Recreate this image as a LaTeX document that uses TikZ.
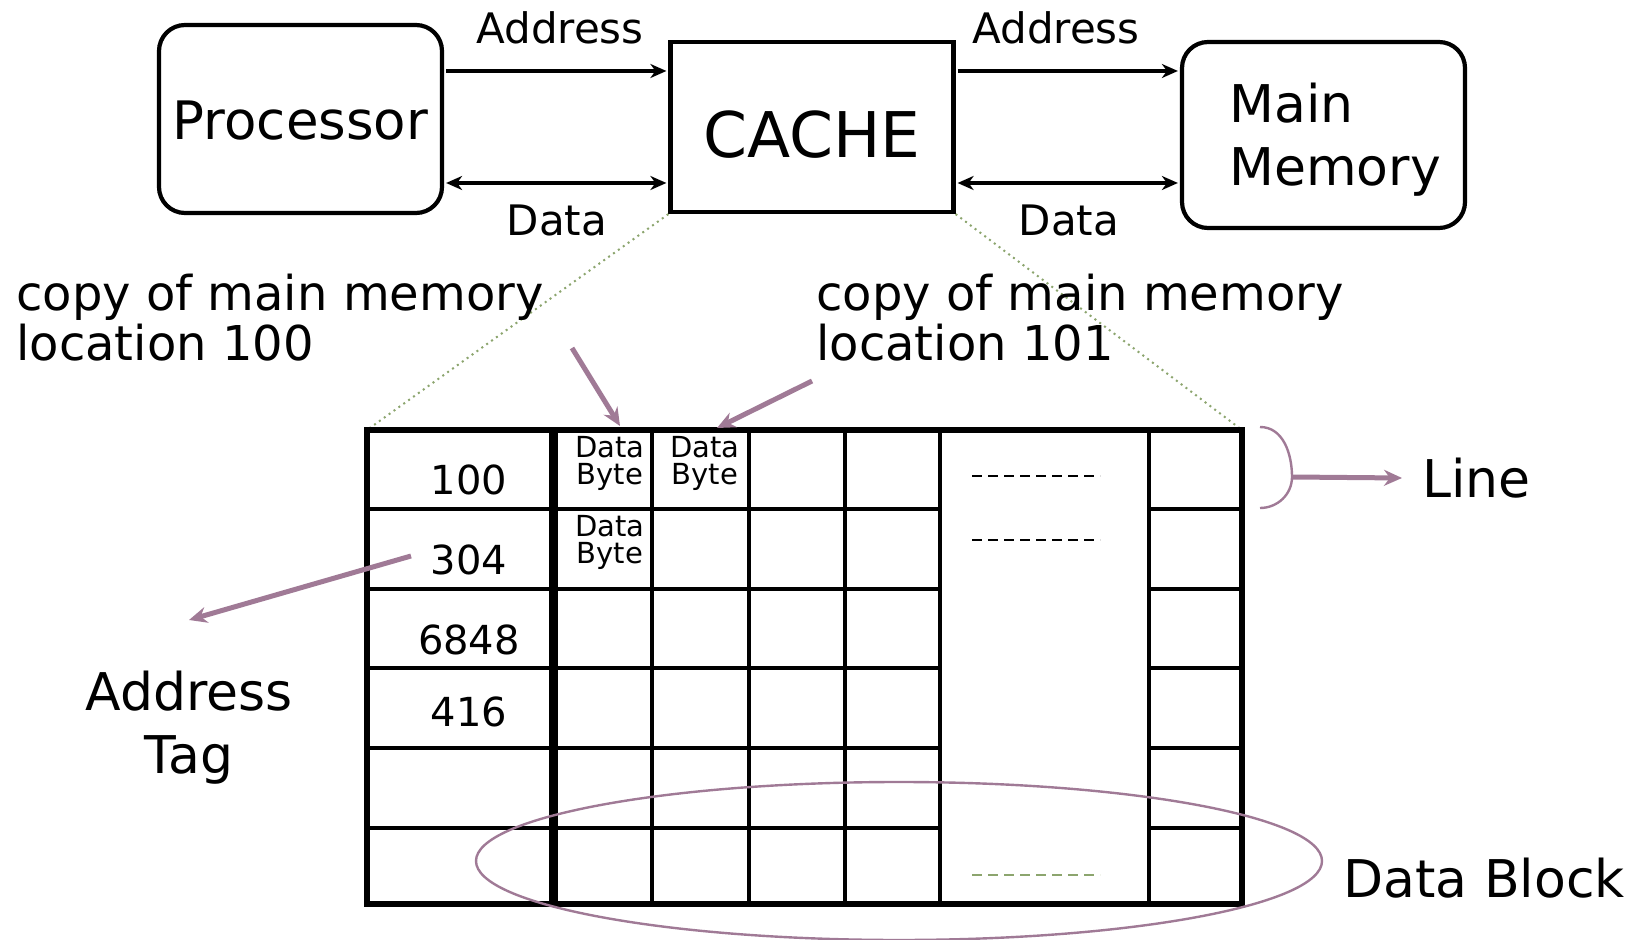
\documentclass[tikz,border=0pt]{standalone}
\usepackage{fontspec}
\setmainfont{DejaVu Sans}
\usetikzlibrary{arrows.meta,positioning,calc}
\definecolor{tagpurple}{RGB}{160,122,150}
\definecolor{zoomgreen}{RGB}{140,165,110}
\tikzset{
  unit/.style={draw, line width=2.1pt, minimum width=141.5pt, inner sep=0pt},
  bus/.style={line width=1.6pt, >={Stealth[length=8pt,width=7pt,inset=2.5pt]}, shorten >=1pt, shorten <=1pt},
  note/.style={->, >={Stealth[length=9pt,width=8pt]}, line width=2.5pt, tagpurple},
  cellline/.style={line width=2.4pt},
  lbl/.style={font=\fontsize{21}{24}\selectfont},
  big/.style={font=\fontsize{26}{31.5}\selectfont, inner sep=0pt},
  tagnum/.style={font=\fontsize{20}{24}\selectfont, inner sep=0pt},
  byte/.style={font=\fontsize{14.5}{13.5}\selectfont, align=center, inner sep=0pt, anchor=north},
  gap/.style={line width=1pt, dash pattern=on 5pt off 3pt}
}

\begin{document}
\begin{tikzpicture}[x=0.5pt, y=-0.5pt]
    \useasboundingbox (0,0) rectangle (1643,940);
    % units
    \node[unit, rounded corners=13pt, minimum height=94pt, font=\fontsize{26.5}{30}\selectfont, text height=21pt] (proc) at (300.5,119) {Processor};
    \node[unit, minimum height=85pt, font=\fontsize{31.5}{36}\selectfont, text height=31pt, text depth=0pt] (cache) at (812,127) {CACHE};
    \node[unit, rounded corners=13pt, minimum height=93pt] (mem) at (1323.5,135) {};
    \node[big, align=left, anchor=west] (memtxt) at (1229,140) {Main\\Memory};
    \coordinate (addrrow) at (0,71);
    \coordinate (datarow) at (0,183);
    \draw[bus, ->] (proc.east |- addrrow) -- (cache.west |- addrrow);
    \draw[bus, <->] (proc.east |- datarow) -- (cache.west |- datarow);
    \draw[bus, ->] (cache.east |- addrrow) -- (mem.west |- addrrow);
    \draw[bus, <->] (cache.east |- datarow) -- (mem.west |- datarow);
    \node[lbl] (addr1) at (560,28) {Address};
    \node[lbl] (data1) at (557,220) {Data};
    \node[lbl] (addr2) at (1056,28) {Address};
    \node[lbl] (data2) at (1069,220) {Data};
    % zoom into the cache
    \coordinate (tl) at (367,430);
    \coordinate (tr) at (1242,430);
    \draw[zoomgreen, dotted, line width=1pt] (cache.south west) -- (tl);
    \draw[zoomgreen, dotted, line width=1pt] (cache.south east) -- (tr);
    \node[big, font=\fontsize{24}{25}\selectfont, align=left, anchor=west] (copy100) at (16,318) {copy of main memory\\location 100};
    \node[big, font=\fontsize{24}{25}\selectfont, align=left, anchor=west] (copy101) at (816,318) {copy of main memory\\location 101};
    % cache lines
    \foreach \y in {509,589,668,748,828} {
      \draw[cellline] (367,\y) -- (940,\y);
      \draw[cellline] (1149,\y) -- (1242,\y);
    }
    \foreach \x in {652,749,845,940,1149}
      \draw[cellline] (\x,430) -- (\x,904);
    \draw[cellline, line width=4.5pt] (553,430) -- (553,904);
    \draw[cellline, line width=2.8pt] (tl) rectangle (1242,904);
    \foreach \tagv/\y in {100/480, 304/560, 6848/640, 416/712}
      \node[tagnum] (tag\tagv) at (469,\y) {\tagv};
    \node[byte] (b11) at (610,436) {Data\\Byte};
    \node[byte] (b12) at (705,436) {Data\\Byte};
    \node[byte] (b21) at (610,515) {Data\\Byte};
    \draw[gap] (972,476) -- (1100,476);
    \draw[gap] (972,540) -- (1100,540);
    \draw[gap, zoomgreen] (972,875) -- (1100,875);
    % pointers
    \coordinate (src100) at (572,348);
    \coordinate (tip100) at (620,426);
    \coordinate (src101) at (812,381);
    \coordinate (tip101) at (717,428);
    \coordinate (srctag) at (411,556);
    \node[big, align=center] (tagl) at (189,728) {Address\\Tag};
    \coordinate (tiptag) at (189,620);
    \draw[note] (src100) -- (tip100);
    \draw[note] (src101) -- (tip101);
    \draw[note] (srctag) -- (tiptag);
    \node[big, anchor=west] (linel) at (1422,478) {Line};
    \draw[tagpurple, line width=1.2pt] (1260,427) to[out=0,in=90] (1292,477) coordinate (brk) to[out=-90,in=0] (1260,508);
    \draw[note] (brk) -- ([xshift=-10pt]linel.west);
    \node[big, anchor=west] (blockl) at (1343,878) {Data Block};
    \draw[tagpurple, line width=1.2pt] (899,861) ellipse [x radius=211.5pt, y radius=39.5pt];
\end{tikzpicture}
\end{document}
